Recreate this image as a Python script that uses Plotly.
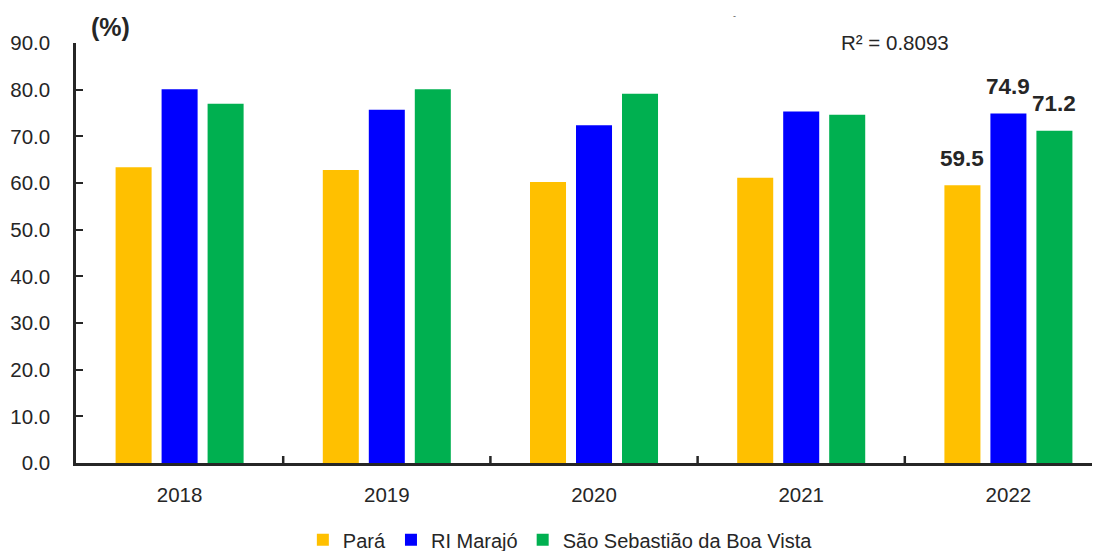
import plotly.graph_objects as go

years = ["2018", "2019", "2020", "2021", "2022"]
para = [63.4, 62.8, 60.2, 61.1, 59.5]
marajo = [80.1, 75.7, 72.4, 75.3, 74.9]
ssbv = [77.0, 80.1, 79.1, 74.6, 71.2]
series_names = ["Pará", "RI Marajó", "São Sebastião da Boa Vista"]
colors = ["#FFC000", "#0000FF", "#00B050"]
yticks = [0, 10, 20, 30, 40, 50, 60, 70, 80, 90]
boundaries = [0.5, 1.5, 2.5, 3.5]

FONT = "Liberation Sans, Arial, sans-serif"
TXT = "#262626"
BARGAP = 0.334
BARGROUPGAP = 0.217

fig = go.Figure()
for name, vals, c in zip(series_names, [para, marajo, ssbv], colors):
    fig.add_trace(go.Bar(
        x=years, y=vals, name=name, marker=dict(color=c, line=dict(width=0)),
    ))

# value labels for the last year (2022)
slot = (1 - BARGAP) / len(series_names)
last = len(years) - 1
for i, vals in enumerate([para, marajo, ssbv]):
    off = (i - (len(series_names) - 1) / 2) * slot
    fig.add_annotation(x=last + off, y=vals[last], xref="x", yref="y",
                       text=f"<b>{vals[last]:.1f}</b>", showarrow=False,
                       yanchor="middle", yshift=27,
                       font=dict(family=FONT, size=22.5, color=TXT))

fig.update_layout(
    width=1092, height=543,
    margin=dict(l=68, r=0, t=35, b=88, autoexpand=False),
    paper_bgcolor="white", plot_bgcolor="white",
    barmode="group", bargap=BARGAP, bargroupgap=BARGROUPGAP,
    font=dict(family=FONT, size=20, color=TXT),
    showlegend=True,
    legend=dict(orientation="h", x=0.473, xanchor="center", y=-0.183, yanchor="middle",
                font=dict(family=FONT, size=20, color=TXT),
                traceorder="normal"),
    xaxis=dict(range=[-0.5, 4.442], showline=True, linecolor=TXT, linewidth=2.5,
               ticks="", showgrid=False, zeroline=False, automargin=False,
               ticklabelstandoff=12,
               tickfont=dict(family=FONT, size=20.5, color=TXT)),
    yaxis=dict(range=[0, 90], showline=True, linecolor=TXT, linewidth=2.5,
               tickvals=yticks, ticktext=[f"{v:.1f}" for v in yticks],
               ticks="inside", ticklen=7, tickwidth=2, tickcolor=TXT,
               showgrid=False, zeroline=False, automargin=False,
               ticklabelstandoff=19,
               tickfont=dict(family=FONT, size=20.5, color=TXT)),
)

# category boundary ticks on the x axis (pointing up)
for b in boundaries:
    fig.add_shape(type="line", xref="x", yref="y", x0=b, x1=b, y0=0, y1=1.5,
                  line=dict(color=TXT, width=2.5))

fig.add_annotation(text="<b>(%)</b>", xref="paper", yref="paper", x=0.0127, y=1.038,
                   xanchor="left", yanchor="middle", showarrow=False,
                   font=dict(family=FONT, size=25, color=TXT))
fig.add_annotation(text="R² = 0.8093", xref="paper", yref="paper", x=0.80, y=1.002,
                   xanchor="center", yanchor="middle", showarrow=False,
                   font=dict(family=FONT, size=20.5, color=TXT))
fig.add_annotation(text="-", xref="paper", yref="paper", x=0.643, y=1.064,
                   xanchor="center", yanchor="middle", showarrow=False,
                   font=dict(family=FONT, size=9, color="#555555"))

fig.write_html("out.html")
